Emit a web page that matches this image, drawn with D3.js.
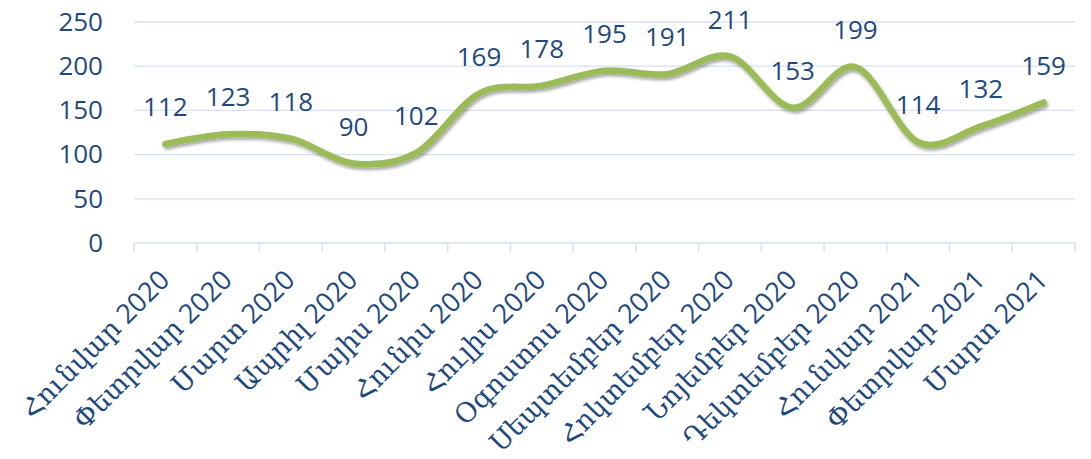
<!DOCTYPE html>
<html>
<head>
<meta charset="utf-8">
<script src="https://cdn.jsdelivr.net/npm/d3@7"></script>
<style>
  html, body { margin: 0; padding: 0; background: #ffffff; }
  svg { display: block; }
</style>
</head>
<body>
<svg id="chart" width="1091" height="459"></svg>
<script>
// Monthly series, January 2020 – March 2021
const months = [
  "Հունվար 2020", "Փետրվար 2020", "Մարտ 2020", "Ապրիլ 2020", "Մայիս 2020",
  "Հունիս 2020", "Հուլիս 2020", "Օգոստոս 2020", "Սեպտեմբեր 2020", "Հոկտեմբեր 2020",
  "Նոյեմբեր 2020", "Դեկտեմբեր 2020", "Հունվար 2021", "Փետրվար 2021", "Մարտ 2021"
];
const values = [112, 123, 118, 90, 102, 169, 178, 195, 191, 211, 153, 199, 114, 132, 159];
const yTicks = [0, 50, 100, 150, 200, 250];

const textColor = "#1F497D";
const gridColor = "#D6E1F2";
const lineColor = "#9BBB59";

const svg = d3.select("#chart");
const plotLeft = 134, plotRight = 1075, plotTop = 22, plotBottom = 243;

const x = d3.scaleBand().domain(months).range([plotLeft, plotRight]).padding(0);
const y = d3.scaleLinear().domain([0, 250]).range([plotBottom, plotTop]);

// soft shadow under the series line
const defs = svg.append("defs");
const f = defs.append("filter").attr("id", "shadow")
  .attr("x", "-10%").attr("y", "-30%").attr("width", "120%").attr("height", "160%");
f.append("feDropShadow").attr("dx", 1.5).attr("dy", 2.5).attr("stdDeviation", 1.8)
  .attr("flood-color", "#000").attr("flood-opacity", 0.35);

// horizontal gridlines
svg.append("g")
  .selectAll("line")
  .data(yTicks.filter(d => d > 0))
  .join("line")
  .attr("x1", plotLeft).attr("x2", plotRight)
  .attr("y1", d => y(d)).attr("y2", d => y(d))
  .attr("stroke", gridColor).attr("stroke-width", 1.3);

// y axis labels
const yAxis = svg.append("g")
  .attr("transform", `translate(${plotLeft},0)`)
  .call(d3.axisLeft(y).tickValues(yTicks).tickSize(0).tickPadding(31));
yAxis.select(".domain").remove();
yAxis.selectAll("text")
  .attr("fill", textColor)
  .style("font-family", "'Open Sans', 'DejaVu Sans', sans-serif")
  .style("font-size", "26px");

// category axis with ticks between categories
const xAxis = svg.append("g")
  .attr("transform", `translate(0,${plotBottom})`)
  .call(d3.axisBottom(x).tickSize(0).tickFormat(""));
xAxis.select(".domain").attr("stroke", gridColor).attr("stroke-width", 1.5)
  .attr("d", `M${plotLeft},0H${plotRight}`);
const edges = months.map(m => x(m)).concat([plotRight]);
xAxis.selectAll(".edge")
  .data(edges)
  .join("line")
  .attr("class", "edge")
  .attr("x1", d => d).attr("x2", d => d)
  .attr("y1", 0).attr("y2", 9)
  .attr("stroke", gridColor).attr("stroke-width", 1.5);

xAxis.selectAll(".tick text").remove();
xAxis.selectAll(".mlabel")
  .data(months)
  .join("text")
  .attr("class", "mlabel")
  .attr("transform", d => `translate(${x(d) + x.bandwidth() / 2 - 1},${32}) rotate(-45)`)
  .attr("text-anchor", "end")
  .attr("dy", "0.35em")
  .attr("fill", textColor)
  .style("font-family", "'Open Sans', 'DejaVu Serif', serif")
  .style("font-size", "27px")
  .text(d => d);

// smoothed series line
const cx = d => x(d) + x.bandwidth() / 2;
const line = d3.line()
  .x((d, i) => cx(months[i]))
  .y(d => y(d))
  .curve(d3.curveCatmullRom.alpha(0));

svg.append("path")
  .datum(values)
  .attr("d", line)
  .attr("fill", "none")
  .attr("stroke", lineColor)
  .attr("stroke-width", 6.5)
  .attr("stroke-linecap", "round")
  .attr("stroke-linejoin", "round")
  .attr("filter", "url(#shadow)");

// value labels above each point
svg.append("g")
  .selectAll("text")
  .data(values)
  .join("text")
  .attr("x", (d, i) => cx(months[i]))
  .attr("y", d => y(d) - 37)
  .attr("dy", "0.35em")
  .attr("text-anchor", "middle")
  .attr("fill", textColor)
  .style("font-family", "'Open Sans', 'DejaVu Sans', sans-serif")
  .style("font-size", "26px")
  .text(d => d);
</script>
</body>
</html>
